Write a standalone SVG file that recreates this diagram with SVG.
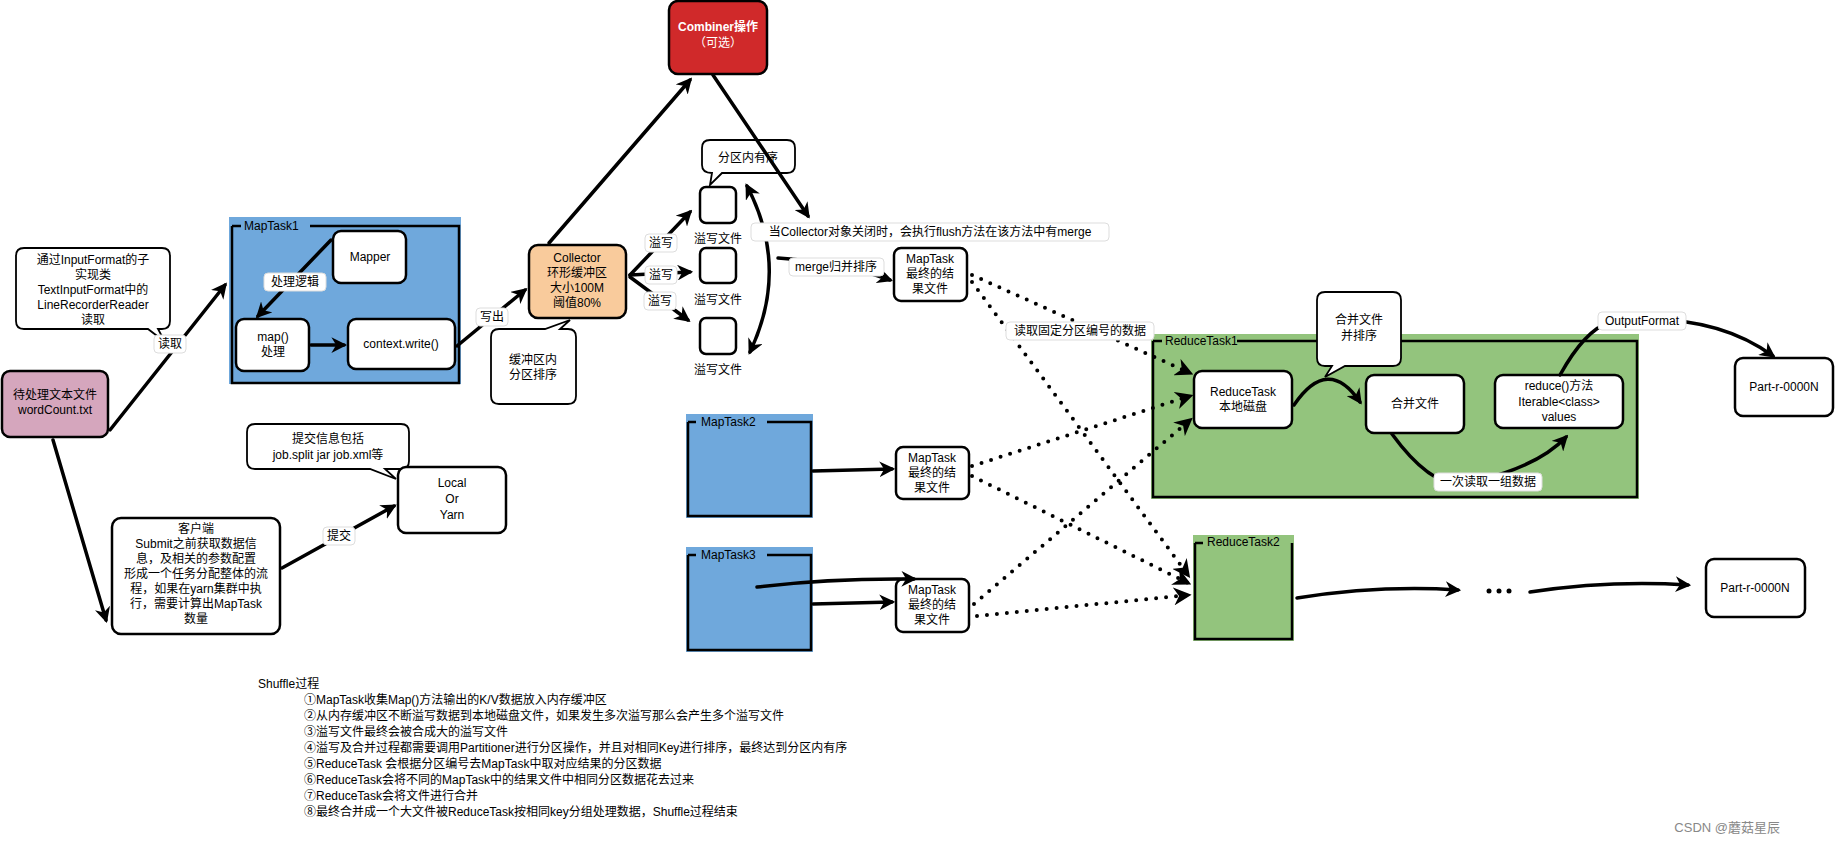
<svg xmlns="http://www.w3.org/2000/svg" width="1835" height="842" viewBox="0 0 1835 842">
<style>
text{font-family:"Liberation Sans","Noto Sans CJK SC",sans-serif;font-size:12px;fill:#000;text-anchor:middle}
.box{fill:#fff;stroke:#000;stroke-width:2.5}
.bub{fill:#fff;stroke:#000;stroke-width:1.8}
.lbl{fill:#fff;stroke:#ddd;stroke-width:1}
.ln{fill:none;stroke:#000;stroke-width:3.5;stroke-linecap:round}
.dot{fill:none;stroke:#000;stroke-width:4;stroke-linecap:round;stroke-dasharray:0 10}
.cont{stroke:#000;stroke-width:2.5;fill:none}
.lt{text-anchor:start}
</style>
<defs>
<marker id="ah" viewBox="0 0 10 10" refX="8" refY="5" markerWidth="4.5" markerHeight="4.5" orient="auto-start-reverse"><path d="M0,0 L10,5 L0,10 L3,5 Z" fill="#000"/></marker>
</defs>
<rect width="1835" height="842" fill="#fff"/>

<g id="bubble-input">
<path class="bub" d="M24,248 H162 Q170,248 170,256 V321 Q170,329 162,329 H158 L165,342 L148,329 H24 Q16,329 16,321 V256 Q16,248 24,248 Z"/>
<text x="93" y="264">通过InputFormat的子</text><text x="93" y="279">实现类</text><text x="93" y="294">TextInputFormat中的</text><text x="93" y="309">LineRecorderReader</text><text x="93" y="324">读取</text>
</g>
<g id="file"><rect x="2" y="371" width="106" height="66" rx="8" fill="#D5A6BD" stroke="#000" stroke-width="2.5"/><text x="55" y="399">待处理文本文件</text><text x="55" y="414">wordCount.txt</text></g>
<g id="maptask1">
<rect x="229" y="217" width="232" height="167" fill="#6FA8DC"/>
<path class="cont" d="M232,226 H241 M310,226 H459 V383 H232 V226"/>
<text class="lt" x="244" y="230">MapTask1</text>
</g>
<g id="mapper"><rect class="box" x="333" y="231" width="73" height="52" rx="8"/><text x="370" y="261">Mapper</text></g>
<g id="map"><rect class="box" x="236" y="319" width="73" height="52" rx="8"/><text x="273" y="341">map()</text><text x="273" y="356">处理</text></g>
<g id="write"><rect class="box" x="348" y="319" width="107" height="50" rx="8"/><text x="401" y="348">context.write()</text></g>
<g id="collector"><rect x="529" y="245" width="97" height="73" rx="9" fill="#F9CB9C" stroke="#000" stroke-width="2.5"/><text x="577" y="262">Collector</text><text x="577" y="277">环形缓冲区</text><text x="577" y="292">大小100M</text><text x="577" y="307">阈值80%</text></g>
<g id="bubble-buffer"><path class="bub" d="M499,329 H545 L570,320 L560,329 H568 Q576,329 576,337 V396 Q576,404 568,404 H499 Q491,404 491,396 V337 Q491,329 499,329 Z"/><text x="533" y="364">缓冲区内</text><text x="533" y="379">分区排序</text></g>
<g id="combiner"><rect x="669" y="1" width="98" height="73" rx="9" fill="#D0292A" stroke="#000" stroke-width="2.5"/><text x="718" y="31" style="fill:#fff;font-weight:bold">Combiner操作</text><text x="718" y="47" style="fill:#fff">（可选）</text></g>
<g id="bubble-sorted"><path class="bub" d="M710,140 H787 Q795,140 795,148 V165 Q795,173 787,173 H722 L710,185 L712,173 Q702,173 702,165 V148 Q702,140 710,140 Z"/><text x="748" y="162">分区内有序</text></g>
<g id="spill1"><rect class="box" x="700" y="187" width="36" height="36" rx="6"/><text x="718" y="243">溢写文件</text></g>
<g id="spill2"><rect class="box" x="700" y="248" width="36" height="35" rx="6"/><text x="718" y="304">溢写文件</text></g>
<g id="spill3"><rect class="box" x="700" y="318" width="36" height="36" rx="6"/><text x="718" y="374">溢写文件</text></g>
<g id="final1"><rect class="box" x="894" y="248" width="73" height="53" rx="7"/><text x="930" y="263">MapTask</text><text x="930" y="278">最终的结</text><text x="930" y="293">果文件</text></g>
<g id="bubble-submit"><path class="bub" d="M255,424 H401 Q409,424 409,432 V461 Q409,469 401,469 H385 L396,479 L370,469 H255 Q247,469 247,461 V432 Q247,424 255,424 Z"/><text x="328" y="443">提交信息包括</text><text x="328" y="459">job.split  jar job.xml等</text></g>
<g id="local"><rect class="box" x="398" y="467" width="108" height="66" rx="8"/><text x="452" y="487">Local</text><text x="452" y="503">Or</text><text x="452" y="519">Yarn</text></g>
<g id="client"><rect class="box" x="112" y="518" width="168" height="116" rx="9"/>
<text x="196" y="533">客户端</text><text x="196" y="548">Submit之前获取数据信</text><text x="196" y="563">息，及相关的参数配置</text><text x="196" y="578">形成一个任务分配整体的流</text><text x="196" y="593">程，如果在yarn集群中执</text><text x="196" y="608">行，需要计算出MapTask</text><text x="196" y="623">数量</text></g>
<g id="maptask2"><rect x="686" y="414" width="127" height="104" fill="#6FA8DC"/><path class="cont" d="M688,422 H696 M767,422 H811 V516 H688 V422"/><text class="lt" x="701" y="426">MapTask2</text></g>
<g id="maptask3"><rect x="686" y="547" width="127" height="105" fill="#6FA8DC"/><path class="cont" d="M688,555 H696 M767,555 H811 V650 H688 V555"/><text class="lt" x="701" y="559">MapTask3</text></g>
<g id="final2"><rect class="box" x="896" y="447" width="73" height="52" rx="7"/><text x="932" y="462">MapTask</text><text x="932" y="477">最终的结</text><text x="932" y="492">果文件</text></g>
<g id="final3"><rect class="box" x="896" y="579" width="73" height="53" rx="7"/><text x="932" y="594">MapTask</text><text x="932" y="609">最终的结</text><text x="932" y="624">果文件</text></g>
<g id="reducetask1"><rect x="1151" y="334" width="488" height="165" fill="#93C47D"/><path class="cont" d="M1153,341 H1162 M1237,341 H1637 V497 H1153 V341"/><text class="lt" x="1165" y="345">ReduceTask1</text></g>
<g id="bubble-merge"><path class="bub" d="M1325,292 H1393 Q1401,292 1401,300 V358 Q1401,366 1393,366 H1345 L1325,377 L1332,366 H1325 Q1317,366 1317,358 V300 Q1317,292 1325,292 Z"/><text x="1359" y="324">合并文件</text><text x="1359" y="340">并排序</text></g>
<g id="localdisk"><rect class="box" x="1194" y="371" width="98" height="57" rx="8"/><text x="1243" y="396">ReduceTask</text><text x="1243" y="411">本地磁盘</text></g>
<g id="mergefile"><rect class="box" x="1366" y="375" width="98" height="58" rx="8"/><text x="1415" y="408">合并文件</text></g>
<g id="reduce"><rect class="box" x="1495" y="375" width="128" height="53" rx="8"/><text x="1559" y="390">reduce()方法</text><text x="1559" y="406">Iterable&lt;class&gt;</text><text x="1559" y="421">values</text></g>
<g id="part1"><rect class="box" x="1735" y="358" width="98" height="58" rx="8"/><text x="1784" y="391">Part-r-0000N</text></g>
<g id="reducetask2"><rect x="1193" y="535" width="101" height="106" fill="#93C47D"/><path class="cont" d="M1195,543 H1203 M1292,543 V639 H1195 V543"/><text class="lt" x="1207" y="546">ReduceTask2</text></g>
<g id="dots"><circle cx="1489" cy="591" r="2.5"/><circle cx="1499" cy="591" r="2.5"/><circle cx="1509" cy="591" r="2.5"/></g>
<g id="part2"><rect class="box" x="1706" y="559" width="99" height="58" rx="8"/><text x="1755" y="592">Part-r-0000N</text></g>

<g id="connectors">
<path class="ln" d="M110,430 L225,285" marker-end="url(#ah)"/>
<path class="ln" d="M53,440 L106,620" marker-end="url(#ah)"/>
<path class="ln" d="M282,568 L394,506" marker-end="url(#ah)"/>
<path class="ln" d="M331,240 L258,316" marker-end="url(#ah)"/>
<path class="ln" d="M311,345 L344,345" marker-end="url(#ah)"/>
<path class="ln" d="M457,346 L525,290" marker-end="url(#ah)"/>
<path class="ln" d="M549,243 L690,80" marker-end="url(#ah)"/>
<path class="ln" d="M713,75 L808,216" marker-end="url(#ah)"/>
<path class="ln" d="M630,275 L690,212" marker-end="url(#ah)"/>
<path class="ln" d="M630,275 L690,272" marker-end="url(#ah)"/>
<path class="ln" d="M630,277 L688,320" marker-end="url(#ah)"/>
<path class="ln" d="M747,186 Q790,268 750,352" marker-start="url(#ah)" marker-end="url(#ah)"/>
<path class="ln" d="M778,258 Q840,262 890,280" marker-end="url(#ah)"/>
<path class="ln" d="M813,471 L892,469" marker-end="url(#ah)"/>
<path class="ln" d="M813,604 L892,602" marker-end="url(#ah)"/>
<path class="ln" d="M757,587 Q830,578 914,579" marker-end="url(#ah)"/>
<path class="dot" d="M972,275 L1190,373" marker-end="url(#ah)"/>
<path class="dot" d="M972,282 L1188,575" marker-end="url(#ah)"/>
<path class="dot" d="M972,466 L1190,396" marker-end="url(#ah)"/>
<path class="dot" d="M972,476 L1188,583" marker-end="url(#ah)"/>
<path class="dot" d="M974,604 L1190,420" marker-end="url(#ah)"/>
<path class="dot" d="M977,616 L1188,595" marker-end="url(#ah)"/>
<path class="ln" d="M1294,405 Q1328,355 1360,402" marker-end="url(#ah)"/>
<path class="ln" d="M1392,434 Q1440,500 1480,480 Q1540,465 1566,437" marker-end="url(#ah)"/>
<path class="ln" d="M1560,375 Q1585,330 1610,322 Q1710,310 1773,356" marker-end="url(#ah)"/>
<path class="ln" d="M1297,598 Q1380,585 1458,590" marker-end="url(#ah)"/>
<path class="ln" d="M1530,592 Q1610,580 1688,585" marker-end="url(#ah)"/>
</g>

<g id="labels">
<rect class="lbl" x="154" y="335" width="32" height="18" rx="4"/><text x="170" y="348">读取</text>
<rect class="lbl" x="323" y="527" width="32" height="18" rx="4"/><text x="339" y="540">提交</text>
<rect class="lbl" x="264" y="273" width="62" height="18" rx="4"/><text x="295" y="286">处理逻辑</text>
<rect class="lbl" x="476" y="308" width="32" height="18" rx="4"/><text x="492" y="321">写出</text>
<rect class="lbl" x="645" y="234" width="32" height="18" rx="4"/><text x="661" y="247">溢写</text>
<rect class="lbl" x="645" y="266" width="32" height="18" rx="4"/><text x="661" y="279">溢写</text>
<rect class="lbl" x="644" y="292" width="32" height="18" rx="4"/><text x="660" y="305">溢写</text>
<rect class="lbl" x="751" y="223" width="358" height="18" rx="4"/><text x="930" y="236">当Collector对象关闭时，会执行flush方法在该方法中有merge</text>
<rect class="lbl" x="789" y="258" width="95" height="18" rx="4"/><text x="836" y="271">merge归并排序</text>
<rect class="lbl" x="1006" y="322" width="148" height="18" rx="4"/><text x="1080" y="335">读取固定分区编号的数据</text>
<rect class="lbl" x="1598" y="312" width="88" height="18" rx="4"/><text x="1642" y="325">OutputFormat</text>
<rect class="lbl" x="1434" y="473" width="108" height="18" rx="4"/><text x="1488" y="486">一次读取一组数据</text>
</g>

<g id="shuffle-notes">
<text class="lt" x="258" y="688">Shuffle过程</text>
<text class="lt" x="304" y="704">①MapTask收集Map()方法输出的K/V数据放入内存缓冲区</text>
<text class="lt" x="304" y="720">②从内存缓冲区不断溢写数据到本地磁盘文件，如果发生多次溢写那么会产生多个溢写文件</text>
<text class="lt" x="304" y="736">③溢写文件最终会被合成大的溢写文件</text>
<text class="lt" x="304" y="752">④溢写及合并过程都需要调用Partitioner进行分区操作，并且对相同Key进行排序，最终达到分区内有序</text>
<text class="lt" x="304" y="768">⑤ReduceTask 会根据分区编号去MapTask中取对应结果的分区数据</text>
<text class="lt" x="304" y="784">⑥ReduceTask会将不同的MapTask中的结果文件中相同分区数据花去过来</text>
<text class="lt" x="304" y="800">⑦ReduceTask会将文件进行合并</text>
<text class="lt" x="304" y="816">⑧最终合并成一个大文件被ReduceTask按相同key分组处理数据，Shuffle过程结束</text>
</g>
<text x="1780" y="832" style="font-size:13px;fill:#888;text-anchor:end">CSDN @蘑菇星辰</text>
</svg>
